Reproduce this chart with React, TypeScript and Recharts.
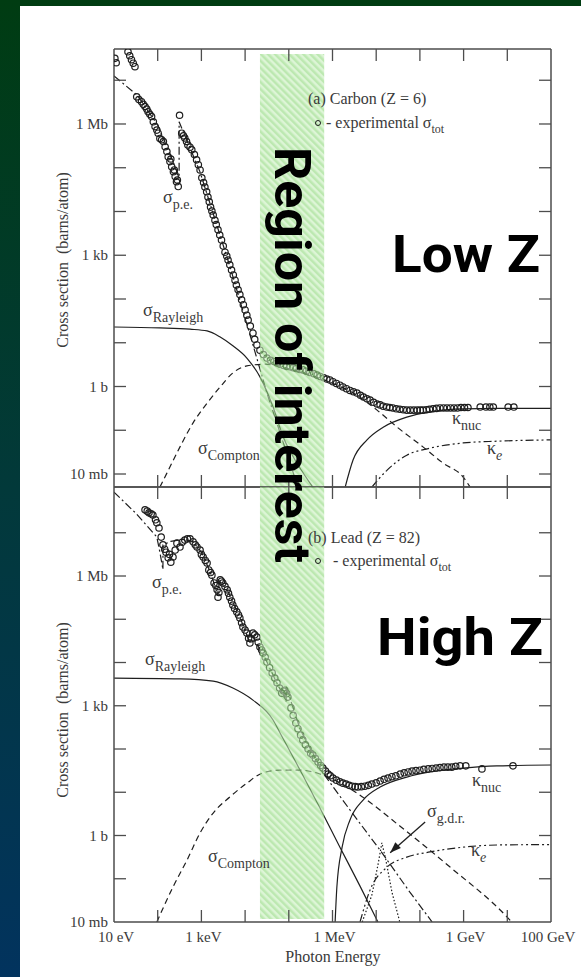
import React from 'react';
import { ComposedChart, Line, Scatter, XAxis, YAxis, ReferenceArea } from 'recharts';

// every point is [log10(E / eV), log10(sigma / barn)]
type Pt = [number, number];

const xTicks = [1, 2, 3, 4, 5, 6, 7, 8, 9, 10, 11];
const xTickLabels: Record<number, string> = { 1: '10 eV', 3: '1 keV', 6: '1 MeV', 9: '1 GeV', 11: '100 GeV' };
const yTicks = [-2, -1, 0, 1, 2, 3, 4, 5, 6, 7];
const yTickLabels: Record<number, string> = { 6: '1 Mb', 3: '1 kb', 0: '1 b', [-2]: '10 mb' };

// hatched "region of interest", ~22 keV .. 650 keV
const roiEnergy: [number, number] = [4.34, 5.81];

// ---- (a) Carbon, Z = 6 ----
const carbonExp: Pt[] = [
  [1.02, 7.5], [1.05, 7.4],
  [1.32, 7.65], [1.36, 7.56], [1.4, 7.47], [1.44, 7.39], [1.48, 7.31],
  [1.52, 6.62], [1.57, 6.56], [1.63, 6.51], [1.67, 6.45], [1.71, 6.4], [1.75, 6.34], [1.78, 6.28],
  [1.82, 6.22], [1.86, 6.17], [1.9, 6.05], [1.94, 5.94], [1.98, 5.86], [2.01, 5.79], [2.05, 5.67],
  [2.09, 5.64], [2.13, 5.6], [2.17, 5.48], [2.21, 5.37], [2.24, 5.25], [2.28, 5.14], [2.3, 5.2],
  [2.32, 5.02], [2.36, 4.91], [2.38, 4.95], [2.4, 4.8], [2.43, 4.68], [2.45, 4.72], [2.47, 4.57],
  [2.5, 6.2],
  [2.55, 5.79], [2.59, 5.73], [2.62, 5.68], [2.66, 5.6], [2.69, 5.52], [2.74, 5.47], [2.78, 5.41],
  [2.84, 5.3], [2.89, 5.18], [2.93, 5.07], [2.97, 4.95], [3.01, 4.77], [3.05, 4.66], [3.08, 4.56],
  [3.12, 4.45], [3.15, 4.33], [3.18, 4.22], [3.21, 4.1], [3.24, 4.01], [3.27, 3.92], [3.31, 3.8],
  [3.34, 3.7], [3.38, 3.58], [3.42, 3.46], [3.46, 3.35], [3.5, 3.21], [3.54, 3.07], [3.58, 2.98],
  [3.61, 2.89], [3.65, 2.78], [3.69, 2.66], [3.73, 2.55], [3.77, 2.43], [3.8, 2.32], [3.84, 2.21],
  [3.88, 2.1], [3.92, 1.98], [3.96, 1.87], [4.0, 1.75], [4.04, 1.63], [4.07, 1.52], [4.12, 1.38],
  [4.18, 1.22], [4.22, 1.08], [4.27, 0.95], [4.34, 0.83], [4.42, 0.73], [4.5, 0.65], [4.58, 0.6],
  [4.66, 0.57], [4.73, 0.54], [4.8, 0.51], [4.88, 0.48], [4.95, 0.46], [5.03, 0.45], [5.1, 0.43],
  [5.17, 0.41], [5.25, 0.39], [5.32, 0.38], [5.4, 0.35], [5.48, 0.32], [5.57, 0.29], [5.65, 0.26],
  [5.72, 0.23], [5.8, 0.2], [5.87, 0.17], [5.94, 0.15], [6.01, 0.11], [6.09, 0.07], [6.17, 0.03],
  [6.24, -0.01], [6.32, -0.05], [6.4, -0.09], [6.48, -0.12], [6.56, -0.15], [6.64, -0.2], [6.71, -0.24],
  [6.79, -0.28], [6.86, -0.31], [6.94, -0.36], [7.02, -0.4], [7.09, -0.42], [7.16, -0.45], [7.24, -0.47],
  [7.31, -0.48], [7.38, -0.49], [7.46, -0.51], [7.54, -0.52], [7.62, -0.53], [7.7, -0.54], [7.78, -0.54],
  [7.86, -0.54], [7.94, -0.54], [8.01, -0.54], [8.07, -0.54], [8.15, -0.53], [8.22, -0.52], [8.3, -0.51],
  [8.38, -0.5], [8.46, -0.49], [8.54, -0.49], [8.62, -0.49], [8.7, -0.49], [8.78, -0.49], [8.86, -0.49],
  [8.94, -0.48], [9.02, -0.48], [9.1, -0.48], [9.38, -0.47], [9.51, -0.47], [9.6, -0.47], [9.68, -0.47],
  [10.02, -0.47], [10.15, -0.47],
];
const carbonPe: Pt[] = [
  [1.0, 7.1], [1.53, 6.66], [2.01, 5.96], [2.49, 4.8], [2.49, 6.05], [2.97, 4.9],
  [3.65, 2.75], [4.18, 0.95], [4.5, -0.15], [5.21, -2.3],
];
const carbonRayleigh: Pt[] = [
  [1.0, 1.36], [2.05, 1.34], [2.74, 1.31], [3.13, 1.27], [3.43, 1.13], [3.72, 0.93],
  [4.04, 0.65], [4.34, 0.22], [4.64, -0.47], [4.87, -1.15], [5.21, -1.79], [5.55, -2.3],
];
const carbonCompton: Pt[] = [
  [2.05, -2.3], [2.21, -1.98], [2.51, -1.38], [2.81, -0.83], [3.13, -0.38], [3.43, -0.01],
  [3.72, 0.31], [4.04, 0.47], [4.46, 0.51], [5.03, 0.4], [5.49, 0.26], [5.94, 0.1],
  [6.51, -0.17], [7.02, -0.54], [7.48, -0.93], [8.07, -1.38], [8.53, -1.75], [8.99, -2.07], [9.15, -2.3],
];
const carbonNuc: Pt[] = [
  [6.29, -2.3], [6.47, -1.68], [6.79, -1.22], [7.16, -0.93], [7.7, -0.7], [8.23, -0.58],
  [8.99, -0.51], [9.76, -0.5], [11.0, -0.5],
];
const carbonElec: Pt[] = [
  [6.9, -2.3], [7.25, -1.91], [7.7, -1.57], [8.23, -1.41], [8.99, -1.29], [9.76, -1.25], [11.0, -1.22],
];

// ---- (b) Lead, Z = 82 ----
const leadExp: Pt[] = [
  [1.71, 7.53], [1.76, 7.5], [1.8, 7.46], [1.85, 7.44], [1.89, 7.41], [1.95, 7.3], [1.98, 7.23],
  [2.03, 7.11], [2.08, 6.9], [2.12, 6.72], [2.16, 6.62], [2.19, 6.55], [2.24, 6.42], [2.3, 6.32],
  [2.27, 6.5], [2.35, 6.44], [2.4, 6.6], [2.44, 6.76], [2.51, 6.67], [2.56, 6.78], [2.62, 6.83],
  [2.68, 6.86], [2.74, 6.86], [2.81, 6.79], [2.86, 6.72], [2.9, 6.67], [2.97, 6.6], [3.0, 6.5],
  [3.04, 6.44], [3.09, 6.36], [3.13, 6.3], [3.17, 6.14], [3.21, 6.08], [3.24, 6.02], [3.29, 5.84],
  [3.33, 5.78], [3.36, 5.68], [3.38, 5.51], [3.4, 5.62], [3.43, 5.91], [3.46, 5.88], [3.49, 5.84],
  [3.54, 5.76], [3.59, 5.68], [3.62, 5.6], [3.65, 5.51], [3.69, 5.42], [3.72, 5.33], [3.76, 5.25],
  [3.81, 5.17], [3.85, 5.1], [3.88, 5.03], [3.92, 4.92], [3.95, 4.82], [4.0, 4.75], [4.04, 4.68],
  [4.08, 4.56], [4.11, 4.45], [4.14, 4.55], [4.18, 4.68], [4.22, 4.64], [4.27, 4.59], [4.3, 4.47],
  [4.34, 4.36], [4.38, 4.29], [4.41, 4.22], [4.46, 4.12], [4.5, 4.01], [4.56, 3.88], [4.62, 3.76],
  [4.68, 3.64], [4.73, 3.53], [4.79, 3.41], [4.84, 3.29], [4.88, 3.34], [4.91, 3.36], [4.95, 3.28],
  [4.98, 3.2], [5.05, 2.95], [5.1, 2.78], [5.16, 2.6], [5.21, 2.47], [5.27, 2.32], [5.32, 2.21],
  [5.38, 2.1], [5.44, 2.0], [5.5, 1.9], [5.55, 1.86], [5.61, 1.78], [5.67, 1.7], [5.73, 1.62],
  [5.78, 1.56], [5.84, 1.49], [5.9, 1.42], [5.95, 1.38], [6.01, 1.33], [6.09, 1.28], [6.17, 1.24],
  [6.24, 1.21], [6.31, 1.19], [6.38, 1.16], [6.45, 1.14], [6.52, 1.13], [6.58, 1.12], [6.66, 1.13],
  [6.74, 1.14], [6.82, 1.16], [6.9, 1.19], [7.0, 1.22], [7.09, 1.26], [7.18, 1.3], [7.27, 1.33],
  [7.36, 1.36], [7.45, 1.38], [7.55, 1.42], [7.64, 1.45], [7.73, 1.47], [7.82, 1.49], [7.91, 1.5],
  [8.0, 1.51], [8.09, 1.53], [8.19, 1.54], [8.28, 1.55], [8.37, 1.56], [8.46, 1.57], [8.55, 1.58],
  [8.64, 1.58], [8.73, 1.58], [8.82, 1.6], [8.92, 1.61], [9.05, 1.61], [9.42, 1.54], [10.13, 1.61],
];
const leadPe: Pt[] = [
  [1.0, 7.94], [1.5, 7.45], [1.98, 6.9], [2.05, 6.55], [2.12, 6.15], [2.12, 6.72], [2.3, 6.8],
  [2.6, 6.85], [2.8, 6.8], [3.0, 6.55], [3.2, 6.1], [3.38, 5.55], [3.38, 5.92], [3.6, 5.66],
  [3.9, 5.0], [4.11, 4.45], [4.11, 4.66], [4.4, 4.22], [4.7, 3.58], [4.94, 3.1], [4.94, 3.45],
  [5.26, 2.45], [5.78, 1.45], [6.4, 0.59], [7.09, -0.34], [7.77, -1.31], [8.28, -2.0],
];
const leadRayleigh: Pt[] = [
  [1.0, 3.64], [2.51, 3.62], [3.27, 3.57], [3.72, 3.41], [4.18, 3.13], [4.64, 2.67],
  [4.8, 2.37], [5.26, 1.51], [5.71, 0.64], [6.17, -0.27], [6.63, -1.17], [7.04, -2.0],
];
const leadCompton: Pt[] = [
  [1.98, -2.0], [2.35, -1.19], [2.67, -0.57], [2.97, 0.06], [3.27, 0.52], [3.65, 0.89],
  [4.04, 1.21], [4.41, 1.45], [4.8, 1.51], [5.26, 1.51], [5.78, 1.4], [6.17, 1.22],
  [6.56, 0.98], [7.54, 0.22], [8.69, -0.73], [9.99, -1.88], [10.1, -2.0],
];
const leadNuc: Pt[] = [
  [6.06, -2.0], [6.1, -1.19], [6.22, -0.27], [6.4, 0.36], [6.7, 0.82], [7.09, 1.12],
  [7.7, 1.35], [8.23, 1.47], [8.99, 1.56], [9.76, 1.61], [11.0, 1.63],
];
const leadElec: Pt[] = [
  [6.63, -2.0], [6.86, -1.26], [7.25, -0.73], [7.7, -0.5], [8.23, -0.38], [8.99, -0.27],
  [9.76, -0.22], [11.0, -0.21],
];
const leadGdr: Pt[] = [
  [6.68, -2.0], [6.9, -1.38], [7.04, -0.68], [7.13, -0.17], [7.22, -0.56], [7.36, -1.31], [7.54, -2.0],
];
const gdrPointer: Pt[] = [[8.12, 0.31], [7.32, -0.4]];

const INK = '#1e1e1e';
const AXIS = '#4d4d4d';
const TEXT = '#3a3a3a';
const SERIF = '"Liberation Serif", "Times New Roman", serif';
const TICK = 12;

const rows = (pts: Pt[]) => pts.map(([l, s]) => ({ l, s }));

const Ring = (p: any) => (
  <circle cx={p.cx} cy={p.cy} r={3.2} fill="none" stroke={INK} strokeWidth={1.2} />
);

const ArrowHead = (p: any) => {
  if (p.index !== 1 || p.cx == null) return null;
  return (
    <polygon
      points="0,0 -11,-4 -11,4"
      transform={`translate(${p.cx},${p.cy}) rotate(136)`}
      fill={INK}
    />
  );
};

interface CurveSpec {
  pts: Pt[];
  dash?: string;
  type?: 'linear' | 'monotone';
  width?: number;
  dot?: any;
}

interface PanelProps {
  id: string;
  top: number;
  height: number;
  margin: { top: number; right: number; bottom: number; left: number };
  yDomain: [number, number];
  bandY: [number, number];
  exp: Pt[];
  curves: CurveSpec[];
  xLabels: boolean;
}

function Panel({ id, top, height, margin, yDomain, bandY, exp, curves, xLabels }: PanelProps) {
  const atEdge = (v: number, d: [number, number]) =>
    Math.abs(v - d[0]) < 0.05 || Math.abs(v - d[1]) < 0.05;
  const xEdge: [number, number] = [1, 11];
  const axisLine = { stroke: AXIS, strokeWidth: 1.5 };
  const labelStyle = { fontFamily: SERIF, fontSize: 15, fill: TEXT };

  const bottomTick = (p: any) => {
    const v = p.payload.value;
    return (
      <g>
        {!atEdge(v, xEdge) && (
          <line x1={p.x} y1={p.y} x2={p.x} y2={p.y - TICK} stroke={AXIS} strokeWidth={1.3} />
        )}
        {xLabels && xTickLabels[v] && (
          <text x={p.x + (v === 11 ? -3 : 2)} y={p.y + 20} textAnchor="middle" style={labelStyle}>
            {xTickLabels[v]}
          </text>
        )}
      </g>
    );
  };
  const topTick = (p: any) =>
    atEdge(p.payload.value, xEdge) ? <g /> : (
      <line x1={p.x} y1={p.y} x2={p.x} y2={p.y + TICK} stroke={AXIS} strokeWidth={1.3} />
    );
  const leftTick = (p: any) => {
    const v = p.payload.value;
    return (
      <g>
        {!atEdge(v, yDomain) && (
          <line x1={p.x} y1={p.y} x2={p.x + TICK} y2={p.y} stroke={AXIS} strokeWidth={1.3} />
        )}
        {yTickLabels[v] && (
          <text x={p.x - 6} y={p.y + 5} textAnchor="end" style={labelStyle}>
            {yTickLabels[v]}
          </text>
        )}
      </g>
    );
  };
  const rightTick = (p: any) =>
    atEdge(p.payload.value, yDomain) ? <g /> : (
      <line x1={p.x} y1={p.y} x2={p.x - TICK} y2={p.y} stroke={AXIS} strokeWidth={1.3} />
    );

  return (
    <div style={{ position: 'absolute', left: 0, top, width: 581, height }}>
      <ComposedChart width={581} height={height} margin={margin}>
        <defs>
          <pattern id={id} patternUnits="userSpaceOnUse" width={5} height={5} patternTransform="rotate(-45)">
            <rect width={5} height={5} fill="#c6eebb" />
            <rect width={2.5} height={5} fill="#8fd97c" />
          </pattern>
        </defs>
        <XAxis xAxisId="b" dataKey="l" type="number" domain={[1, 11]} ticks={xTicks} interval={0}
          allowDataOverflow height={1} tickSize={0} tickMargin={0} tickLine={false}
          axisLine={axisLine} tick={bottomTick} />
        <XAxis xAxisId="t" orientation="top" dataKey="l" type="number" domain={[1, 11]} ticks={xTicks}
          interval={0} allowDataOverflow height={1} tickSize={0} tickMargin={0} tickLine={false}
          axisLine={axisLine} tick={topTick} />
        <YAxis yAxisId="l" dataKey="s" type="number" domain={yDomain} ticks={yTicks} interval={0}
          allowDataOverflow width={1} tickSize={0} tickMargin={0} tickLine={false}
          axisLine={axisLine} tick={leftTick} />
        <YAxis yAxisId="r" orientation="right" dataKey="s" type="number" domain={yDomain} ticks={yTicks}
          interval={0} allowDataOverflow width={1} tickSize={0} tickMargin={0} tickLine={false}
          axisLine={axisLine} tick={rightTick} />

        {curves.map((c, i) => (
          <Line
            key={i}
            xAxisId="b"
            yAxisId="l"
            data={rows(c.pts)}
            dataKey="s"
            type={c.type ?? 'monotone'}
            stroke={INK}
            strokeWidth={c.width ?? 1.2}
            strokeDasharray={c.dash}
            dot={c.dot ?? false}
            activeDot={false}
            isAnimationActive={false}
          />
        ))}

        <Scatter xAxisId="b" yAxisId="l" data={rows(exp)} dataKey="s" shape={Ring} isAnimationActive={false} />

        <ReferenceArea xAxisId="b" yAxisId="l" x1={roiEnergy[0]} x2={roiEnergy[1]} y1={bandY[0]} y2={bandY[1]}
          fill={`url(#${id})`} fillOpacity={0.6} stroke="none" ifOverflow="visible" zIndex={1000} />
      </ComposedChart>
    </div>
  );
}

const sigStyle = { fontFamily: SERIF, fontSize: 18, fill: TEXT };
const subStyle = { fontFamily: SERIF, fontSize: 14, fill: TEXT };

// symbol with a lowered subscript, e.g. sigma_Compton
function Sym({ x, y, sym, sub, italic }: { x: number; y: number; sym: string; sub: string; italic?: boolean }) {
  return (
    <text x={x} y={y} style={sigStyle}>
      {sym}
      <tspan dy={6} style={{ ...subStyle, fontStyle: italic ? 'italic' : 'normal' }}>{sub}</tspan>
    </text>
  );
}

const bold = { fontFamily: 'Roboto, "DejaVu Sans", sans-serif', fontWeight: 700, fill: '#000' };
const legendStyle = { fontFamily: SERIF, fontSize: 16, fill: TEXT };

export default function App() {
  return (
    <div style={{ position: 'absolute', left: 0, top: 0, width: 581, height: 977, overflow: 'hidden',
      background: 'linear-gradient(to bottom, #003c12 0%, #02393a 50%, #02335e 100%)' }}>
      <div style={{ position: 'absolute', left: 20, top: 6, right: 0, bottom: 0, background: '#fff' }} />

      <Panel
        id="roiA"
        top={0}
        height={500}
        margin={{ top: 48, right: 29, bottom: 12, left: 113 }}
        yDomain={[-2.297, 7.714]}
        bandY={[-2.297, 7.6]}
        exp={carbonExp}
        xLabels={false}
        curves={[
          { pts: carbonPe, dash: '8 3 2 3', type: 'linear' },
          { pts: carbonRayleigh },
          { pts: carbonCompton, dash: '6 4' },
          { pts: carbonNuc },
          { pts: carbonElec, dash: '8 3 2 3 2 3' },
        ]}
      />
      <Panel
        id="roiB"
        top={480}
        height={497}
        margin={{ top: 6, right: 29, bottom: 54, left: 113 }}
        yDomain={[-2.0, 8.058]}
        bandY={[-1.93, 8.058]}
        exp={leadExp}
        xLabels
        curves={[
          { pts: leadPe, dash: '8 3 2 3', type: 'linear' },
          { pts: leadRayleigh },
          { pts: leadCompton, dash: '6 4' },
          { pts: leadNuc },
          { pts: leadElec, dash: '8 3 2 3 2 3' },
          { pts: leadGdr, dash: '1.5 2', type: 'linear' },
          { pts: gdrPointer, type: 'linear', width: 1.3, dot: ArrowHead },
        ]}
      />

      <svg width={581} height={977} style={{ position: 'absolute', left: 0, top: 0, pointerEvents: 'none' }}>
        {/* axis titles */}
        <text transform="translate(68,260) rotate(-90)" textAnchor="middle" style={legendStyle}>
          Cross section{'\u00a0\u00a0'}(barns/atom)
        </text>
        <text transform="translate(68,710) rotate(-90)" textAnchor="middle" style={legendStyle}>
          Cross section{'\u00a0\u00a0'}(barns/atom)
        </text>
        <text x={333} y={962} textAnchor="middle" style={legendStyle}>Photon Energy</text>

        {/* panel (a) */}
        <text x={308} y={104} style={legendStyle}>(a) Carbon (Z = 6)</text>
        <circle cx={318} cy={123} r={2.5} fill="none" stroke={INK} strokeWidth={1} />
        <text x={326} y={128} style={legendStyle}>
          - experimental σ<tspan dy={5} fontSize={12}>tot</tspan>
        </text>
        <Sym x={163} y={203} sym="σ" sub="p.e." />
        <Sym x={143} y={316} sym="σ" sub="Rayleigh" />
        <Sym x={198} y={454} sym="σ" sub="Compton" />
        <Sym x={452} y={424} sym="κ" sub="nuc" />
        <Sym x={487} y={454} sym="κ" sub="e" italic />

        {/* panel (b) */}
        <text x={308} y={543} style={legendStyle}>(b) Lead (Z = 82)</text>
        <circle cx={318} cy={561} r={2.5} fill="none" stroke={INK} strokeWidth={1} />
        <text x={333} y={566} style={legendStyle}>
          - experimental σ<tspan dy={5} fontSize={12}>tot</tspan>
        </text>
        <Sym x={152} y={588} sym="σ" sub="p.e." />
        <Sym x={145} y={665} sym="σ" sub="Rayleigh" />
        <Sym x={208} y={862} sym="σ" sub="Compton" />
        <Sym x={472} y={786} sym="κ" sub="nuc" />
        <Sym x={471} y={856} sym="κ" sub="e" italic />
        <Sym x={427} y={817} sym="σ" sub="g.d.r." />

        {/* callouts */}
        <text transform="translate(275,147) rotate(90)" textLength={416} lengthAdjust="spacingAndGlyphs"
          style={{ ...bold, fontSize: 50 }}>Region of interest</text>
        <text x={392} y={272} textLength={148} lengthAdjust="spacingAndGlyphs"
          style={{ ...bold, fontSize: 52 }}>Low Z</text>
        <text x={377} y={655} textLength={166} lengthAdjust="spacingAndGlyphs"
          style={{ ...bold, fontSize: 52 }}>High Z</text>
      </svg>
    </div>
  );
}
